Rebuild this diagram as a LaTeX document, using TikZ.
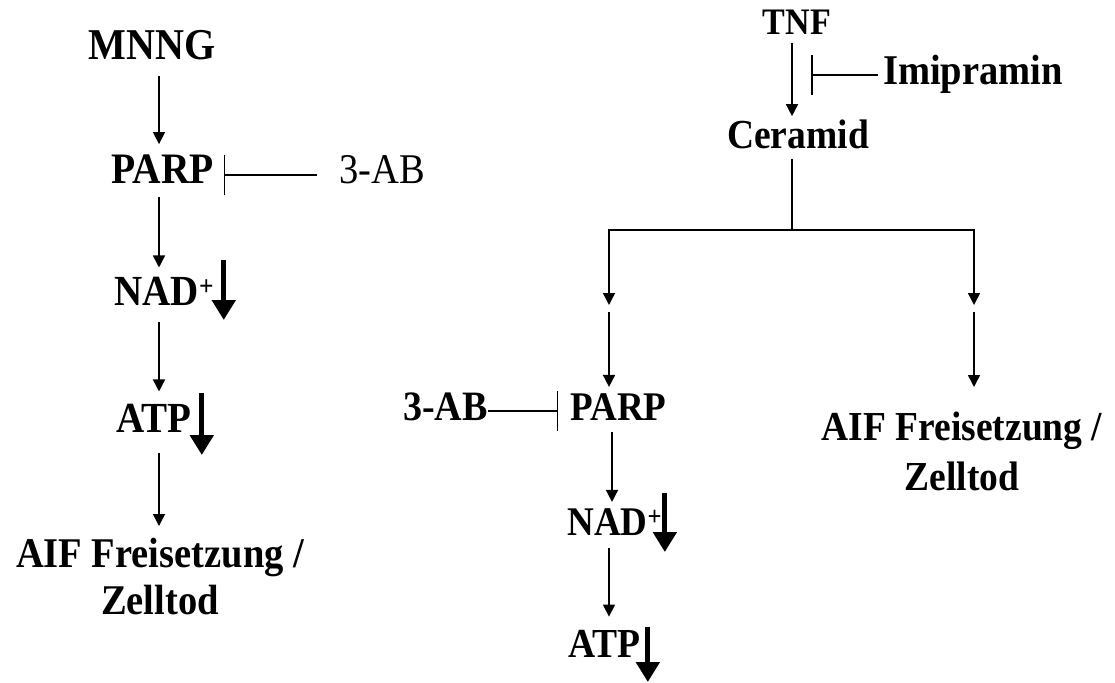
\documentclass[tikz,border=0pt]{standalone}
\usepackage{fontspec}
\setmainfont{Liberation Serif}[FakeStretch=0.91]
\usetikzlibrary{arrows.meta,calc}

\begin{document}
\begin{tikzpicture}[x=1pt,y=-1pt,
  lbl/.style={inner sep=0pt,anchor=base,font=\bfseries\fontsize{\fpeval{1.1*#1}}{48}\selectfont},
  lbl/.default=39,
  arr/.style={-{Triangle[length=12pt,width=12pt]},line width=1.5pt},
  inh/.style={-{Bar[width=40pt]},line width=1.5pt},
  drop/.style={-{Triangle[length=20pt,width=23pt]},line width=5pt}]
\useasboundingbox (0,0) rectangle (1115,682);

% left path: MNNG
\node[lbl=40] (mnng) at (152,60) {MNNG};
\node[lbl=39.5] (parpL) at (162.5,183) {PARP};
\node[lbl,font=\fontsize{42.3}{48}\selectfont] (abL) at (382.5,183) {3-AB};
\node[lbl] (nadL) at (164,305) {NAD{\fontsize{28}{28}\selectfont\raisebox{10pt}{+}}};
\node[lbl] (atpL) at (154,432) {ATP};
\node[lbl,anchor=north,align=center,font=\bfseries\fontsize{42.3}{47}\selectfont] (aifL) at (160,538) {AIF Freisetzung /\\Zelltod};
\coordinate (colL) at (159,0);

\draw[arr,shorten <=15pt,shorten >=10pt] (mnng.south -| colL) -- (parpL.north -| colL);
\draw[arr,shorten <=14pt,shorten >=9pt] (parpL.south -| colL) -- (nadL.north -| colL);
\draw[arr,shorten <=17pt,shorten >=12pt] (nadL.south -| colL) -- (atpL.north -| colL);
\draw[arr,shorten <=21pt,shorten >=12pt] (atpL.south -| colL) -- (aifL.north -| colL);
\draw[inh] ($(abL.base west)+(-23,-8)$) -- ($(parpL.base east)+(10,-8)$);
\draw[drop] ($(nadL.base east)+(10,-45)$) -- ++(0,60);
\draw[drop] ($(atpL.base east)+(10,-39)$) -- ++(0,62);

% right path: TNF
\node[lbl=34] (tnf) at (797,35) {TNF};
\node[lbl=38.5] (imi) at (973,85) {Imipramin};
\node[lbl=37.5] (ceramid) at (798,148) {Ceramid};
\node[lbl=38] (abR) at (445.5,420) {3-AB};
\node[lbl=37] (parpR) at (618.5,420) {PARP};
\node[lbl=37] (nadR) at (614.5,535) {NAD{\fontsize{27}{27}\selectfont\raisebox{10pt}{+}}};
\node[lbl=37.5] (atpR) at (604.5,657) {ATP};
\node[lbl,anchor=north,align=center,font=\bfseries\fontsize{41.2}{50}\selectfont] (aifR) at (962,412) {AIF Freisetzung /\\Zelltod};
\coordinate (colC) at (792,0);
\coordinate (colQ) at (612,0);
\coordinate (colP) at (609,0);
\coordinate (split) at (792,230);
\coordinate (midL) at (609,305);
\coordinate (midR) at (974,305);

\draw[arr,shorten <=8pt,shorten >=3pt] (tnf.south -| colC) -- (ceramid.north -| colC);
\draw[inh] ($(imi.base west)+(-5,-10)$) -- ($(colC |- imi.base)+(19,-10)$);
\draw[line width=1.5pt,shorten <=10pt] (ceramid.south -| split) -- (split);
\draw[arr] (split) -| (midL);
\draw[arr] (split) -| (midR);
\draw[arr,shorten <=7pt,shorten >=6pt] (midL) -- (parpR.north -| midL);
\draw[arr,shorten <=7pt,shorten >=25pt] (midR) -- (aifR.north -| midR);
\draw[inh] ($(abR.base east)+(0,-9)$) -- ($(parpR.base west)+(-12,-9)$);
\draw[arr,shorten <=12pt,shorten >=6pt] (parpR.south -| colQ) -- (nadR.north -| colQ);
\draw[arr,shorten <=13pt,shorten >=13pt] (nadR.south -| colP) -- (atpR.north -| colP);
\draw[drop] ($(nadR.base east)+(3,-42)$) -- ++(0,59);
\draw[drop] ($(atpR.base east)+(7,-30)$) -- ++(0,55);
\end{tikzpicture}
\end{document}
